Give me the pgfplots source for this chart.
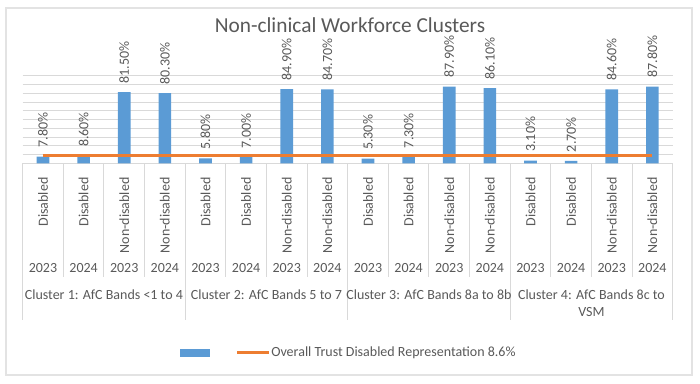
\documentclass[border=0pt]{standalone}
\usepackage{pgfplots}
\pgfplotsset{compat=1.18}
\usepackage{fontspec}
\setmainfont{Carlito}
\definecolor{barblue}{HTML}{5B9BD5}
\definecolor{lineorange}{HTML}{ED7D31}
\definecolor{gridgray}{HTML}{D9D9D9}
\definecolor{txtgray}{HTML}{595959}
\definecolor{framegray}{HTML}{E3E3E3}
\newcommand\lblfont{\fontsize{10.5}{12.6}\selectfont}
\begin{document}
\begin{tikzpicture}
\useasboundingbox (0,0) rectangle (525pt,288pt);
\draw[framegray, line width=1.2pt] (4.5pt,6.75pt) rectangle (519pt,282pt);
\node[text=txtgray, font=\fontsize{16}{19}\selectfont] at (262.5pt,269.25pt) {Non-clinical Workforce Clusters};
\begin{axis}[
  at={(17pt,165.5pt)}, anchor=south west,
  scale only axis, width=487.5pt, height=65.5pt,
  xmin=-0.5, xmax=15.5, ymin=0, ymax=100,
  clip=false,
  separate axis lines,
  axis x line*=bottom, axis y line*=left,
  x axis line style={draw=gridgray, line width=0.75pt, -},
  y axis line style={draw=none},
  ytick={10,20,...,100}, yticklabels={}, ymajorgrids,
  grid style={gridgray, line width=0.75pt},
  major tick length=0pt,
  xtick={0,...,15},
  xticklabels={Disabled,Disabled,Non-disabled,Non-disabled,Disabled,Disabled,Non-disabled,Non-disabled,Disabled,Disabled,Non-disabled,Non-disabled,Disabled,Disabled,Non-disabled,Non-disabled},
  xticklabel style={rotate=90, anchor=east, inner sep=0pt, font=\lblfont, text=txtgray},
  xticklabel shift=10.5pt,
  /pgf/number format/assume math mode=true,
]
\addplot[ybar, bar width=9.5pt, fill=barblue, draw=none,
  nodes near coords={\pgfmathprintnumber[fixed,fixed zerofill,precision=2]{\pgfplotspointmeta}\%},
  every node near coord/.append style={rotate=90, anchor=west, inner sep=0pt, inner xsep=6.5pt, font=\lblfont, text=txtgray}]
coordinates {(0,7.8) (1,8.6) (2,81.5) (3,80.3) (4,5.8) (5,7.0) (6,84.9) (7,84.7) (8,5.3) (9,7.3) (10,87.9) (11,86.1) (12,3.1) (13,2.7) (14,84.6) (15,87.8)};
\addplot[lineorange, line width=2.25pt, mark=none] coordinates {(0,8.6) (15,8.6)};
\end{axis}
\foreach \i in {1,2,3,5,6,7,9,10,11,13,14,15}
  \draw[gridgray, line width=0.75pt] ({17pt+\i*30.469pt},165.5pt) -- ({17pt+\i*30.469pt},80.25pt);
\foreach \i in {0,4,8,12,16}
  \draw[gridgray, line width=0.75pt] ({17pt+\i*30.469pt},165.5pt) -- ({17pt+\i*30.469pt},48pt);
\foreach \i/\y in {0/2023,1/2024,2/2023,3/2024,4/2023,5/2024,6/2023,7/2024,8/2023,9/2024,10/2023,11/2024,12/2023,13/2024,14/2023,15/2024}
  \node[inner sep=0pt, font=\lblfont, text=txtgray] at ({17pt+(\i+0.5)*30.469pt},87pt) {\y};
\node[inner sep=0pt, font=\lblfont, text=txtgray] at ({17pt+2*30.469pt},66.75pt) {Cluster 1: AfC Bands <1 to 4};
\node[inner sep=0pt, font=\lblfont, text=txtgray] at ({17pt+6*30.469pt},66.75pt) {Cluster 2: AfC Bands 5 to 7};
\node[inner sep=0pt, font=\lblfont, text=txtgray] at ({17pt+10*30.469pt},66.75pt) {Cluster 3: AfC Bands 8a to 8b};
\node[inner sep=0pt, font=\lblfont, text=txtgray] at ({17pt+14*30.469pt},66.75pt) {Cluster 4: AfC Bands 8c to};
\node[inner sep=0pt, font=\lblfont, text=txtgray] at ({17pt+14*30.469pt},54pt) {VSM};
% legend
\fill[barblue] (135pt,20.5pt) rectangle (157.5pt,26pt);
\draw[lineorange, line width=2.25pt] (177.75pt,23.25pt) -- (201.75pt,23.25pt);
\node[anchor=west, inner sep=0pt, font=\lblfont, text=txtgray] at (203.25pt,23.25pt) {Overall Trust Disabled Representation 8.6\%};
\end{tikzpicture}
\end{document}
